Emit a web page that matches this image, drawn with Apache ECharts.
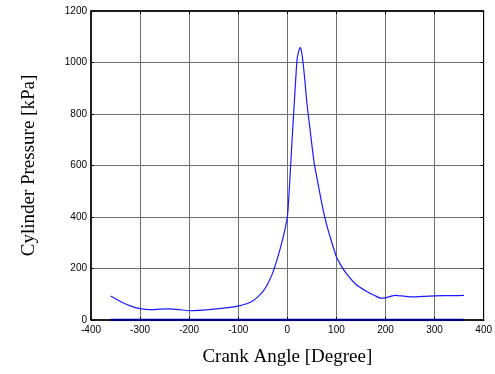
<!DOCTYPE html>
<html>
<head>
<meta charset="utf-8">
<script src="https://cdn.jsdelivr.net/npm/echarts@6/dist/echarts.min.js"></script>
<style>
  html, body { margin: 0; padding: 0; background: #fff; }
  #main { width: 495px; height: 374px; }
</style>
</head>
<body>
<div id="main"></div>
<script>
// crank angle [deg] and cylinder pressure [kPa]
var angle = [-360, -340, -320, -300, -280, -260, -240, -220, -200, -180, -160, -140, -120, -100,
  -80, -70, -60, -50, -40, -30, -20, -10, -5, 0, 2, 5, 10, 15, 20, 25, 27, 30, 35, 40, 45, 50, 55, 60,
  70, 80, 90, 100, 110, 120, 140, 160, 180, 190, 200, 210, 220, 240, 260, 280, 300, 320, 340, 360]
var pressure = [93, 72, 55, 44, 40, 42, 43, 40, 36, 37, 40, 44, 48, 54,
  65, 75, 90, 110, 140, 182, 240, 310, 350, 400, 445, 540, 710, 870, 1015, 1055, 1058, 1030, 945, 840, 760, 680, 605, 555,
  455, 370, 305, 246, 210, 181, 138, 113, 93, 85, 86, 92, 96, 92, 90, 92, 94, 95, 95, 96]
var baseAngle = [-360, 360]
var baseValue = [0, 0]

var xTicks = [-400, 400, 100]
var yTicks = [0, 1200, 200]

var myChart = echarts.init(document.getElementById('main'))

function pairs(xs, ys) {
  return xs.map(function (x, i) { return [x, ys[i]] })
}

var labelFont = {
  color: '#000', fontFamily: 'Liberation Sans', fontSize: 10,
  formatter: function (v) { return String(v) }
}
var tick = { show: true, inside: true, length: 3, lineStyle: { color: '#000' } }

var option = {
  animation: false,
  grid: { left: 91, right: 11, top: 11, bottom: 54, show: true, borderColor: '#000', borderWidth: 1 },
  xAxis: [{
    type: 'value', min: xTicks[0], max: xTicks[1], interval: xTicks[2],
    name: 'Crank Angle [Degree]', nameLocation: 'middle', nameGap: 28,
    nameTextStyle: { fontFamily: 'Liberation Serif', fontSize: 19, color: '#000' },
    axisLine: { show: true, onZero: false, lineStyle: { color: '#000', width: 1.5 } },
    axisTick: tick,
    axisLabel: Object.assign({ margin: 5 }, labelFont),
    splitLine: { show: true, lineStyle: { color: '#707070', width: 1 } }
  }, {
    type: 'value', position: 'top', min: xTicks[0], max: xTicks[1], interval: xTicks[2],
    axisLine: { show: true, onZero: false, lineStyle: { color: '#000', width: 1.5 } },
    axisTick: tick, axisLabel: { show: false }, splitLine: { show: false }
  }],
  yAxis: [{
    type: 'value', min: yTicks[0], max: yTicks[1], interval: yTicks[2],
    name: 'Cylinder Pressure [kPa]', nameLocation: 'middle', nameGap: 52,
    nameTextStyle: { fontFamily: 'Liberation Serif', fontSize: 19, color: '#000' },
    axisLine: { show: true, onZero: false, lineStyle: { color: '#000', width: 1.5 } },
    axisTick: tick,
    axisLabel: Object.assign({ margin: 4 }, labelFont),
    splitLine: { show: true, lineStyle: { color: '#707070', width: 1 } }
  }, {
    type: 'value', position: 'right', min: yTicks[0], max: yTicks[1], interval: yTicks[2],
    axisLine: { show: true, onZero: false, lineStyle: { color: '#000', width: 1 } },
    axisTick: tick, axisLabel: { show: false }, splitLine: { show: false }
  }],
  series: [{
    type: 'line', data: pairs(angle, pressure), smooth: 0.15, symbol: 'none',
    lineStyle: { color: '#1a1aff', width: 1.2 }
  }, {
    type: 'line', data: pairs(baseAngle, baseValue), symbol: 'none',
    lineStyle: { color: '#00008b', width: 2.5 }
  }]
}

myChart.setOption(option)
</script>
</body>
</html>
